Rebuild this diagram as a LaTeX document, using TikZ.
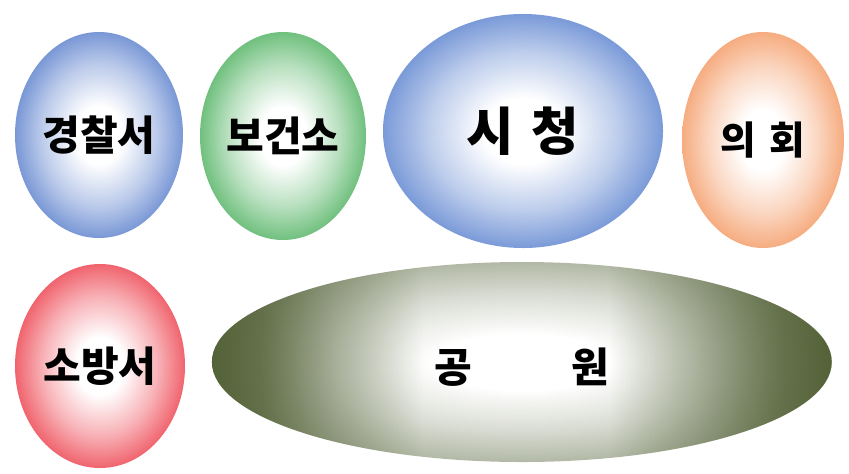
\documentclass[tikz,border=0pt]{standalone}
\usepackage{fontspec}
\newfontfamily\kfont{Noto Sans CJK KR}
\usetikzlibrary{shapes.geometric, positioning, fadings}

\definecolor{policeblue}{RGB}{122,152,214}
\definecolor{healthgreen}{RGB}{112,192,126}
\definecolor{cityblue}{RGB}{122,154,216}
\definecolor{councilpeach}{RGB}{246,172,128}
\definecolor{firered}{RGB}{240,100,110}
\definecolor{parkolive}{RGB}{84,98,56}
\colorlet{bubblecol}{white}

% white core, colour at the rim
\pgfdeclareradialshading[bubblecol]{bubbleshade}{\pgfpoint{0bp}{0bp}}{%
    color(0bp)=(white); color(7bp)=(white); color(17bp)=(bubblecol!50);
    color(25bp)=(bubblecol); color(50bp)=(bubblecol)}
% opaque at the sides, clear in the middle
\pgfdeclarehorizontalshading{sideshade}{100bp}{%
    color(0bp)=(white); color(25bp)=(white); color(29bp)=(white!85!black);
    color(35bp)=(white!40!black); color(42bp)=(black); color(57bp)=(black);
    color(64bp)=(white!40!black); color(71bp)=(white!85!black);
    color(75bp)=(white); color(100bp)=(white)}
\tikzfading[name=sidefade, shading=sideshade]

\tikzset{
    bubble/.style={ellipse, inner sep=0pt, /utils/exec={\colorlet{bubblecol}{#1}}, shading=bubbleshade},
    label/.style={font=\kfont\bfseries\fontsize{#1}{#1}\selectfont},
}

\begin{document}
\begin{tikzpicture}[x=0.03cm, y=-0.03cm]
    \useasboundingbox (0,0) rectangle (849,473);

    % top row
    \node[bubble=policeblue, minimum width=5.04cm, minimum height=6.18cm, label=35]
        (police) at (99,135) {경찰서};
    \node[bubble=healthgreen, minimum width=4.98cm, minimum height=6.24cm, label=35]
        (health) at (283,136) {보건소};
    \node[bubble=cityblue, minimum width=8.4cm, minimum height=7.02cm, label=44]
        (city) at (523,131) {시\,\,청};
    \node[bubble=councilpeach, minimum width=4.86cm, minimum height=6.48cm, label=33]
        (council) at (763,140) {의\,\,회};

    % bottom row
    \node[bubble=firered, minimum width=5.1cm, minimum height=6.12cm, label=35]
        (fire) at (100,366) {소방서};
    \node[bubble=parkolive!45, minimum width=18.6cm, minimum height=6cm]
        (park) at (522,362) {};
    \fill[parkolive, path fading=sidefade] (park.center) ellipse [x radius=9.3cm, y radius=3cm];
    \node[label=35, yshift=-0.15cm] (parktext) at (park.center) {공\hspace{3cm}원};
\end{tikzpicture}
\end{document}
